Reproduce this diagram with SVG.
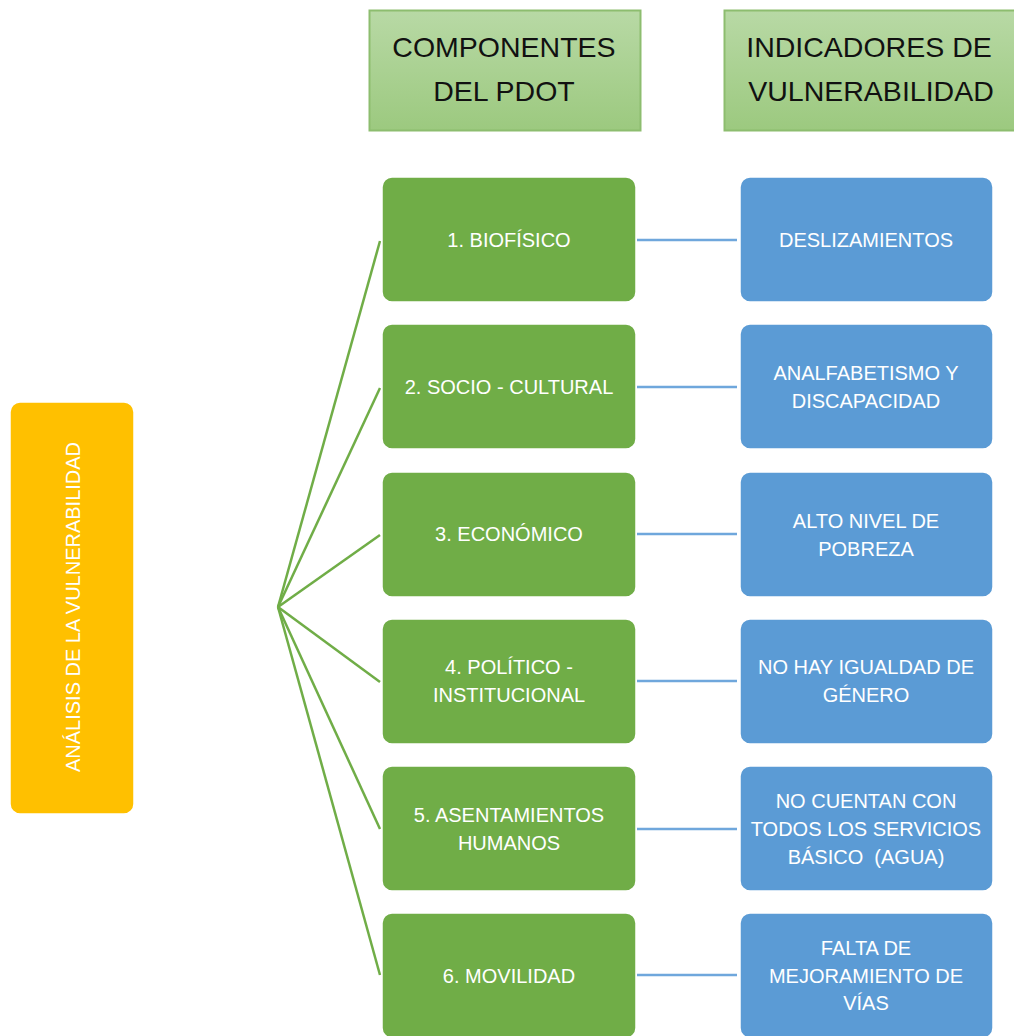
<svg xmlns="http://www.w3.org/2000/svg" width="1014" height="1036" viewBox="0 0 1014 1036">
<defs>
<linearGradient id="hg" x1="0" y1="0" x2="0" y2="1">
<stop offset="0" stop-color="#b8d9a5"/>
<stop offset="1" stop-color="#9cc97f"/>
</linearGradient>
</defs>
<style>
.hdr{fill:url(#hg);stroke:#8dbd6f;stroke-width:2}
.ht{font-family:"Liberation Sans",Arial,sans-serif;font-size:28.5px;fill:#111;text-anchor:middle}
.gb{fill:#70ad47;stroke:#ffffff;stroke-width:1.5}
.bb{fill:#5b9bd5;stroke:#ffffff;stroke-width:1.5}
.ob{fill:#ffc000;stroke:#ffffff;stroke-width:1.5}
.t{font-family:"Liberation Sans",Arial,sans-serif;font-size:20px;fill:#ffffff;text-anchor:middle}
.gl{stroke:#70ad47;stroke-width:2.5;fill:none}
.bl{stroke:#6fa7dc;stroke-width:2.5;fill:none}
</style>
<rect width="1014" height="1036" fill="#ffffff"/>
<g id="hdr-componentes">
<rect class="hdr" x="369.5" y="10.5" width="271" height="120"/>
<text class="ht" x="504" y="57">COMPONENTES</text>
<text class="ht" x="504" y="101">DEL PDOT</text>
</g>
<g id="hdr-indicadores">
<rect class="hdr" x="724.5" y="10.5" width="292" height="120"/>
<text class="ht" x="869" y="57">INDICADORES DE</text>
<text class="ht" x="871" y="101">VULNERABILIDAD</text>
</g>
<g id="connectors">
<line class="gl" x1="278" y1="607" x2="380" y2="241"/>
<line class="gl" x1="278" y1="607" x2="380" y2="388"/>
<line class="gl" x1="278" y1="607" x2="380" y2="535"/>
<line class="gl" x1="278" y1="607" x2="380" y2="682"/>
<line class="gl" x1="278" y1="607" x2="380" y2="829"/>
<line class="gl" x1="278" y1="607" x2="380" y2="975"/>
<line class="bl" x1="637" y1="240" x2="737" y2="240"/>
<line class="bl" x1="637" y1="387" x2="737" y2="387"/>
<line class="bl" x1="637" y1="534" x2="737" y2="534"/>
<line class="bl" x1="637" y1="681" x2="737" y2="681"/>
<line class="bl" x1="637" y1="829" x2="737" y2="829"/>
<line class="bl" x1="637" y1="975" x2="737" y2="975"/>
</g>
<g id="analisis">
<rect class="ob" x="10" y="402" width="124" height="412" rx="10"/>
<text class="t" font-size="21" transform="translate(80,607) rotate(-90)">ANÁLISIS DE LA VULNERABILIDAD</text>
</g>
<g id="c1"><rect class="gb" x="382" y="177" width="254" height="125" rx="10"/><text class="t" x="509" y="247">1. BIOFÍSICO</text></g>
<g id="c2"><rect class="gb" x="382" y="324" width="254" height="125" rx="10"/><text class="t" x="509" y="394">2. SOCIO - CULTURAL</text></g>
<g id="c3"><rect class="gb" x="382" y="472" width="254" height="125" rx="10"/><text class="t" x="509" y="541">3. ECONÓMICO</text></g>
<g id="c4"><rect class="gb" x="382" y="619" width="254" height="125" rx="10"/><text class="t" x="509" y="674">4. POLÍTICO -</text><text class="t" x="509" y="702">INSTITUCIONAL</text></g>
<g id="c5"><rect class="gb" x="382" y="766" width="254" height="125" rx="10"/><text class="t" x="509" y="822">5. ASENTAMIENTOS</text><text class="t" x="509" y="850">HUMANOS</text></g>
<g id="c6"><rect class="gb" x="382" y="913" width="254" height="125" rx="10"/><text class="t" x="509" y="983">6. MOVILIDAD</text></g>
<g id="i1"><rect class="bb" x="740" y="177" width="253" height="125" rx="10"/><text class="t" x="866" y="247">DESLIZAMIENTOS</text></g>
<g id="i2"><rect class="bb" x="740" y="324" width="253" height="125" rx="10"/><text class="t" x="866" y="380">ANALFABETISMO Y</text><text class="t" x="866" y="408">DISCAPACIDAD</text></g>
<g id="i3"><rect class="bb" x="740" y="472" width="253" height="125" rx="10"/><text class="t" x="866" y="528">ALTO NIVEL DE</text><text class="t" x="866" y="556">POBREZA</text></g>
<g id="i4"><rect class="bb" x="740" y="619" width="253" height="125" rx="10"/><text class="t" x="866" y="674">NO HAY IGUALDAD DE</text><text class="t" x="866" y="702">GÉNERO</text></g>
<g id="i5"><rect class="bb" x="740" y="766" width="253" height="125" rx="10"/><text class="t" x="866" y="808">NO CUENTAN CON</text><text class="t" x="866" y="836">TODOS LOS SERVICIOS</text><text class="t" x="866" y="864">BÁSICO&#160; (AGUA)</text></g>
<g id="i6"><rect class="bb" x="740" y="913" width="253" height="125" rx="10"/><text class="t" x="866" y="955">FALTA DE</text><text class="t" x="866" y="983">MEJORAMIENTO DE</text><text class="t" x="866" y="1010">VÍAS</text></g>
</svg>
